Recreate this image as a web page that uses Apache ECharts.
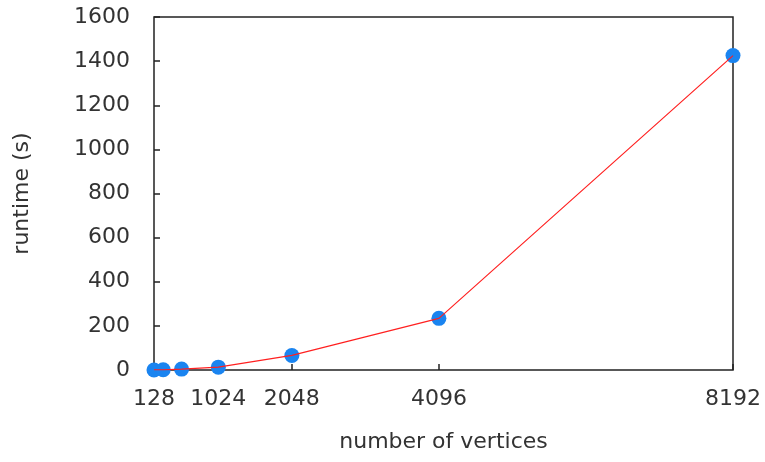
<!DOCTYPE html>
<html><head><meta charset="utf-8">
<script src="https://cdn.jsdelivr.net/npm/echarts@6/dist/echarts.min.js"></script>
<style>html,body{margin:0;padding:0;background:#fff}#c{width:765px;height:462px}</style>
</head><body><div id="c"></div>
<script>
const vertices = [128, 256, 512, 1024, 2048, 4096, 8192];
const runtimes = [0.3, 1, 4, 13, 66, 234, 1425];
const xTicks = [128, 1024, 2048, 4096, 8192];
const yTicks = [0, 200, 400, 600, 800, 1000, 1200, 1400, 1600];

const pts = vertices.map((v, i) => [v, runtimes[i]]);
const font = 'DejaVu Sans, sans-serif';
const chart = echarts.init(document.getElementById('c'));
chart.setOption({
  animation: false,
  backgroundColor: '#fff',
  grid: {left: 154, right: 32, top: 17, bottom: 92, show: true, borderColor: '#222', borderWidth: 1.5,
         containLabel: false, outerBoundsMode: 'none'},
  xAxis: {
    type: 'value', min: 128, max: 8192,
    name: 'number of vertices', nameLocation: 'middle', nameGap: 61,
    nameTextStyle: {fontFamily: font, fontSize: 22, color: '#333'},
    axisLine: {show: false},
    splitLine: {show: false},
    axisTick: {inside: true, length: 6, customValues: xTicks, lineStyle: {color: '#222', width: 1.5}},
    axisLabel: {customValues: xTicks, formatter: v => String(v), fontFamily: font, fontSize: 22, color: '#333', margin: 18}
  },
  yAxis: {
    type: 'value', min: 0, max: 1600, interval: 200,
    name: 'runtime (s)', nameLocation: 'middle', nameGap: 121, nameRotate: 90,
    nameTextStyle: {fontFamily: font, fontSize: 22, color: '#333'},
    axisLine: {show: false},
    splitLine: {show: false},
    axisTick: {inside: true, length: 6, lineStyle: {color: '#222', width: 1.5}},
    axisLabel: {formatter: v => String(v), fontFamily: font, fontSize: 22, color: '#333', margin: 24}
  },
  series: [
    {type: 'scatter', data: pts, symbol: 'circle', symbolSize: 15,
     itemStyle: {color: '#1a84f0', opacity: 1}, z: 2},
    {type: 'line', data: pts, showSymbol: false, symbol: 'none',
     lineStyle: {color: '#ff2020', width: 1.2}, z: 3}
  ]
});
</script></body></html>
